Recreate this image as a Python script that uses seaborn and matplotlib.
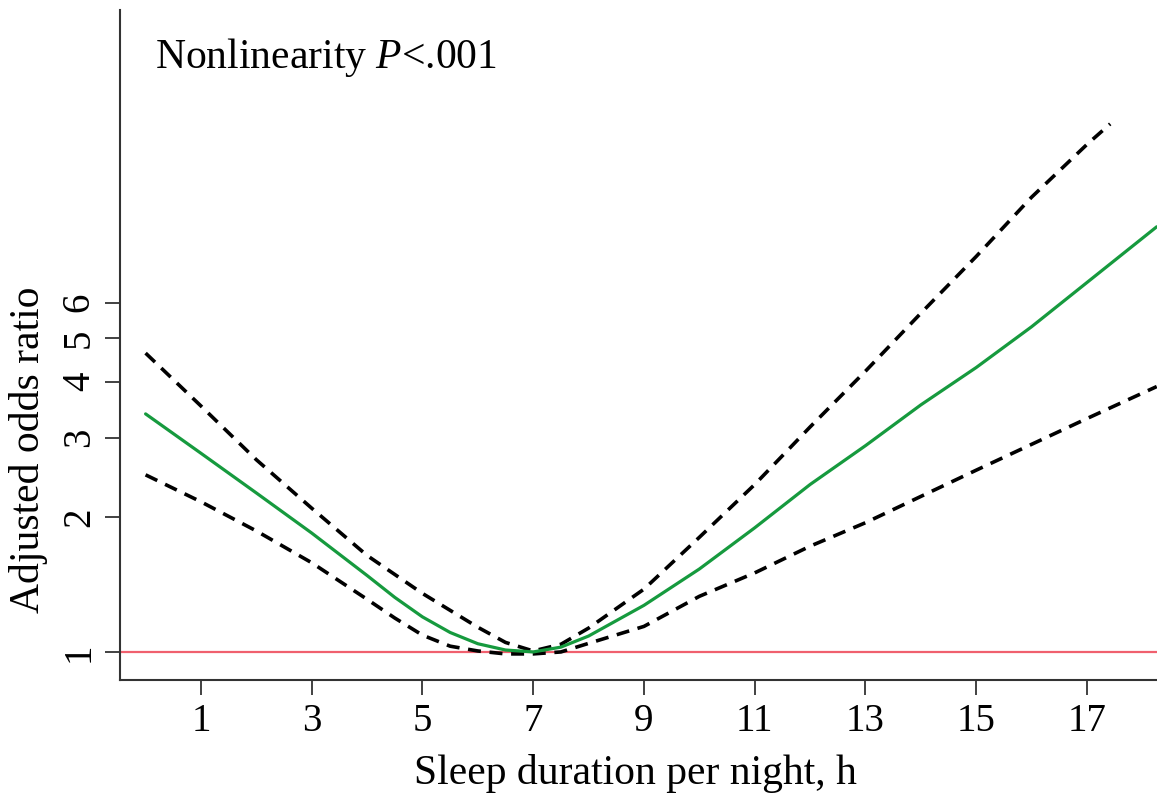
import numpy as np
import pandas as pd
import matplotlib
matplotlib.use('Agg')
import matplotlib.pyplot as plt
from matplotlib.ticker import FixedLocator, NullLocator, FixedFormatter
import seaborn as sns

# ── Data ──────────────────────────────────────────────────────────────────────
sleep_h = [0, 1, 2, 3, 4, 4.5, 5, 5.5, 6, 6.5, 7, 7.5, 8, 9, 10, 11, 12, 13, 14, 15, 16, 17, 18.26]
or_est  = [3.39, 2.77, 2.26, 1.84, 1.48, 1.323, 1.197, 1.105, 1.043, 1.01, 1.0, 1.025, 1.085,
           1.27, 1.53, 1.89, 2.36, 2.88, 3.55, 4.30, 5.30, 6.65, 8.85]
or_low  = [2.48, 2.16, 1.86, 1.58, 1.31, 1.19, 1.09, 1.03, 1.005, 0.99, 0.99, 1.0, 1.045,
           1.14, 1.33, 1.50, 1.72, 1.94, 2.22, 2.54, 2.90, 3.31, 3.90]
upper_h = [0, 1, 2, 3, 4, 5, 6, 6.5, 7, 7.5, 8, 9, 10, 11, 12, 13, 14, 15, 16, 17, 17.42]
or_high = [4.63, 3.53, 2.68, 2.09, 1.64, 1.35, 1.135, 1.05, 1.005, 1.04, 1.13,
           1.38, 1.80, 2.36, 3.17, 4.22, 5.68, 7.60, 10.3, 13.5, 15.0]

x_ticks = [1, 3, 5, 7, 9, 11, 13, 15, 17]
y_ticks = [1, 2, 3, 4, 5, 6]
x_label = 'Sleep duration per night, h'
y_label = 'Adjusted odds ratio'

GREEN = '#169a3e'
RED   = '#f0606e'

df_mid = pd.DataFrame({'h': sleep_h, 'lo': or_low, 'mid': or_est})
df_hi  = pd.DataFrame({'h': upper_h, 'hi': or_high})

# ── Style ─────────────────────────────────────────────────────────────────────
sns.set_style('ticks')
plt.rcParams['font.family'] = ['Liberation Serif', 'DejaVu Serif']
plt.rcParams['mathtext.fontset'] = 'custom'
plt.rcParams['mathtext.rm'] = 'Liberation Serif'
plt.rcParams['mathtext.it'] = 'Liberation Serif:italic'
plt.rcParams['text.color'] = 'black'
plt.rcParams['xtick.color'] = '#333333'
plt.rcParams['ytick.color'] = '#333333'
plt.rcParams['xtick.labelcolor'] = 'black'
plt.rcParams['ytick.labelcolor'] = 'black'
plt.rcParams['axes.labelcolor'] = 'black'

W, H = 1157, 798
fig = plt.figure(figsize=(W / 100, H / 100), dpi=100)
ax = fig.add_axes([120 / W, (H - 680) / H, (W - 120) / W, (680 - 10) / H])

ax.axhline(1, color=RED, lw=1.6, zorder=1)
sns.lineplot(data=df_hi, x='h', y='hi', ax=ax, color='black', lw=2.6,
             sort=False, estimator=None)
sns.lineplot(data=df_mid, x='h', y='lo', ax=ax, color='black', lw=2.6,
             sort=False, estimator=None)
sns.lineplot(data=df_mid, x='h', y='mid', ax=ax, color=GREEN, lw=2.3,
             sort=False, estimator=None, zorder=3)
for ln in ax.lines[1:3]:
    ln.set_dashes((3.6, 2.4))

ax.set_yscale('log')
ax.set_xlim(-0.462, 18.265)
ax.set_ylim(0.866, 26.9)

ax.xaxis.set_major_locator(FixedLocator(x_ticks))
ax.yaxis.set_major_locator(FixedLocator(y_ticks))
ax.yaxis.set_major_formatter(FixedFormatter([str(v) for v in y_ticks]))
ax.yaxis.set_minor_locator(NullLocator())
ax.tick_params(axis='both', length=11, width=1.3, labelsize=28)
ax.tick_params(axis='x', pad=5.5)
ax.tick_params(axis='y', pad=5)
for lab in ax.get_yticklabels():
    lab.set_rotation(90)
    lab.set_va('center')

ax.set_xlabel(x_label, fontsize=30)
ax.set_ylabel(y_label, fontsize=30)
ax.xaxis.set_label_coords(0.497, -0.110)
ax.yaxis.label.set_va('center')
ax.yaxis.set_label_coords(-0.0887, 0.343)

for s in ['top', 'right']:
    ax.spines[s].set_visible(False)
for s in ['left', 'bottom']:
    ax.spines[s].set_linewidth(1.5)
    ax.spines[s].set_color('#333333')

ax.text(0.0338, 0.913, r'Nonlinearity $P$<.001', transform=ax.transAxes,
        fontsize=30, ha='left', va='baseline')

fig.savefig('out.png', dpi=100)
